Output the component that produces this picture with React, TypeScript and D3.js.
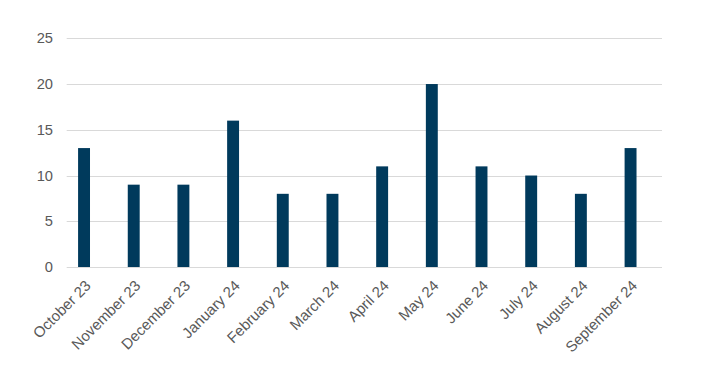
import React, { useEffect, useRef } from 'react';
import { select, scaleBand, scaleLinear } from 'd3';

const months = [
  'October 23', 'November 23', 'December 23', 'January 24', 'February 24', 'March 24',
  'April 24', 'May 24', 'June 24', 'July 24', 'August 24', 'September 24',
];
const counts = [13, 9, 9, 16, 8, 8, 11, 20, 11, 10, 8, 13];
const yTicks = [0, 5, 10, 15, 20, 25];

const App = () => {
  const svgRef = useRef<SVGSVGElement>(null);

  useEffect(() => {
    const svg = select(svgRef.current);
    svg.selectAll('*').remove();
    const font = 'Liberation Sans, Arial, sans-serif';

    const xScale = scaleBand<string>()
      .domain(months)
      .range([59.2, 655.4])
      .paddingInner(0.76)
      .paddingOuter(0.38);

    const yScale = scaleLinear().domain([0, 25]).range([267, 38.3]);

    // grid lines
    svg.append('g')
      .selectAll('line')
      .data(yTicks)
      .join('line')
      .attr('x1', 66.7)
      .attr('x2', 662)
      .attr('y1', d => Math.round(yScale(d)) + 0.5)
      .attr('y2', d => Math.round(yScale(d)) + 0.5)
      .attr('stroke', '#d9d9d9')
      .attr('stroke-width', 1);

    // y labels
    svg.append('g')
      .selectAll('text')
      .data(yTicks)
      .join('text')
      .attr('x', 53)
      .attr('y', d => yScale(d))
      .attr('dy', '0.35em')
      .attr('text-anchor', 'end')
      .attr('font-family', font)
      .attr('font-size', 14.7)
      .attr('fill', '#595959')
      .text(d => d);

    // bars
    svg.append('g')
      .selectAll('rect')
      .data(counts)
      .join('rect')
      .attr('x', (d, i) => xScale(months[i]) as number)
      .attr('y', d => yScale(d))
      .attr('width', xScale.bandwidth())
      .attr('height', d => yScale(0) - yScale(d))
      .attr('fill', '#003a5c');

    // x labels
    svg.append('g')
      .selectAll('text')
      .data(months)
      .join('text')
      .attr('transform', d => {
        const cx = (xScale(d) as number) + xScale.bandwidth() / 2;
        return `translate(${cx + 4},${283}) rotate(-45)`;
      })
      .attr('dy', '0.35em')
      .attr('text-anchor', 'end')
      .attr('font-family', font)
      .attr('font-size', 15)
      .attr('fill', '#595959')
      .text(d => d);
  }, []);

  return (
    <svg
      ref={svgRef}
      width={713}
      height={373}
      style={{ position: 'absolute', left: 0, top: 0, background: '#fff' }}
    />
  );
};

export default App;
